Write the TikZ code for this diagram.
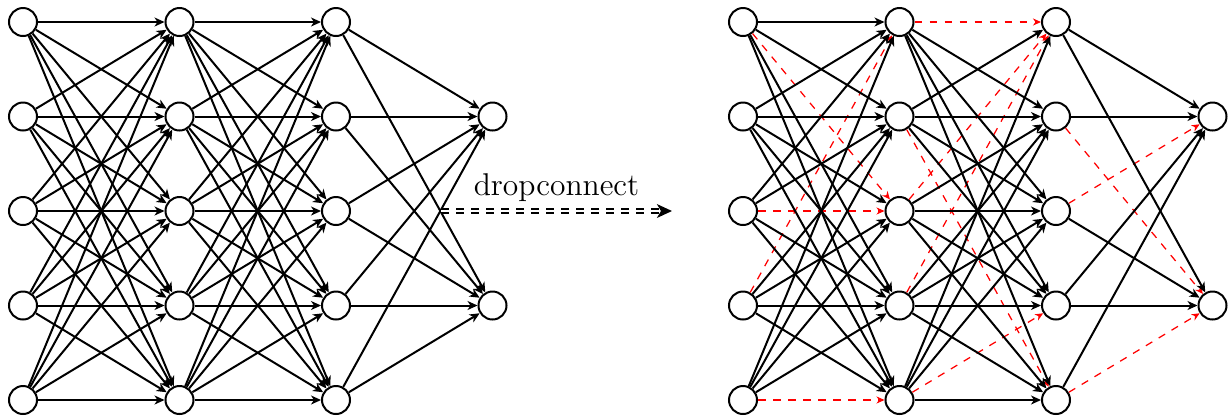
\documentclass[tikz,border=0pt]{standalone}
\usetikzlibrary{arrows.meta}
\begin{document}
\begin{tikzpicture}[x=0.4pt,y=-0.4pt,
  neuron/.style={circle,draw,thick,minimum size=11.2pt,inner sep=0pt,fill=white},
  link/.style={thick,-{Stealth[length=4pt,width=3.6pt,inset=1.2pt]}},
  dropped/.style={red,line width=0.5pt,dashed,-{Stealth[length=3.2pt,width=2.8pt,inset=1pt]}},
  droparrow/.style={thick,double,double distance=0.7pt,dashed,-{Stealth[length=6pt,width=5.5pt,inset=1.6pt]}}]
\useasboundingbox (0,0) rectangle (1229,416);

% dropped connections of the right-hand network
\foreach \x in {a1-b3,a3-b3,a4-b1,a5-b5,b1-c1,b2-c5,b3-c1,b4-c1,b5-c4,c2-d2,c3-d1,c5-d2}
  {\expandafter\gdef\csname drop-\x\endcsname{}}

% neurons: layers a, b, c (five each) and output layer d (two)
\foreach \n/\ox in {L/0,R/720} {
  \foreach \r [count=\i] in {22,116.5,211,305.5,400} {
    \node[neuron] (\n a\i) at (23+\ox,\r) {};
    \node[neuron] (\n b\i) at (179.5+\ox,\r) {};
    \node[neuron] (\n c\i) at (336+\ox,\r) {};
  }
  \node[neuron] (\n d1) at (492.5+\ox,116.5) {};
  \node[neuron] (\n d2) at (492.5+\ox,305.5) {};
}

% left network: fully connected
\foreach \p/\q/\m in {a/b/5,b/c/5,c/d/2}
  \foreach \s in {1,...,5}
    \foreach \t in {1,...,\m}
      \draw[link] (L\p\s) -- (L\q\t);

% right network: dropped links first, kept links on top
\foreach \p/\q/\m in {a/b/5,b/c/5,c/d/2}
  \foreach \s in {1,...,5}
    \foreach \t in {1,...,\m} {
      \ifcsname drop-\p\s-\q\t\endcsname
        \draw[dropped] (R\p\s) -- (R\q\t);
      \fi
    }
\foreach \p/\q/\m in {a/b/5,b/c/5,c/d/2}
  \foreach \s in {1,...,5}
    \foreach \t in {1,...,\m} {
      \ifcsname drop-\p\s-\q\t\endcsname\else
        \draw[link] (R\p\s) -- (R\q\t);
      \fi
    }

% transition arrow
\coordinate (dcstart) at (441,211);
\coordinate (dcend) at (672,211);
\draw[droparrow] (dcstart) -- (dcend)
  node[midway,above,font=\fontsize{12.6pt}{15pt}\selectfont] (dclabel) {dropconnect};
\end{tikzpicture}
\end{document}
